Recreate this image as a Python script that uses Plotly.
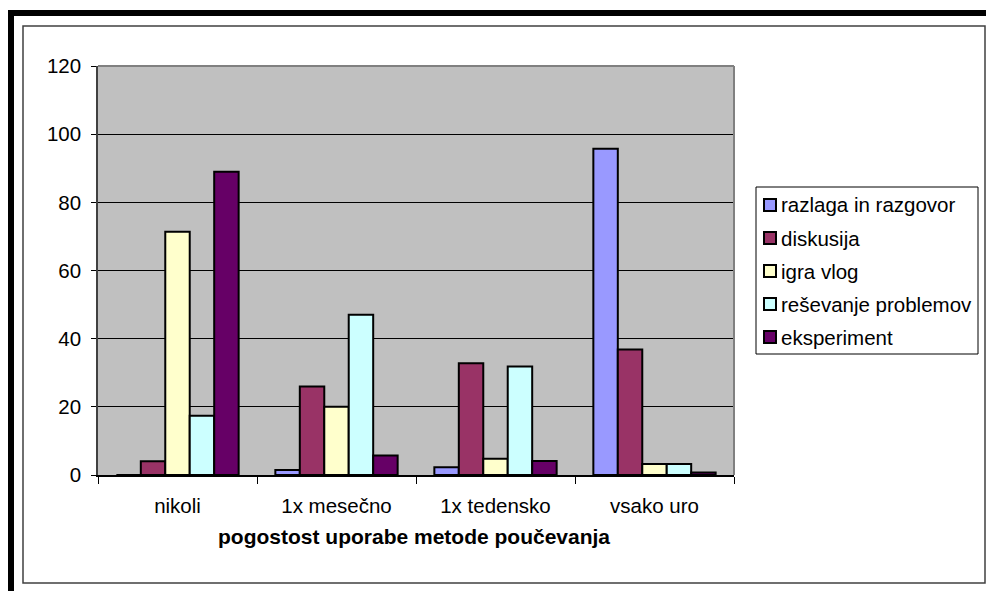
import plotly.graph_objects as go

# Categories (frequency of use) and the five teaching methods
categories = ["nikoli", "1x mesečno", "1x tedensko", "vsako uro"]
methods = ["razlaga in razgovor", "diskusija", "igra vlog",
           "reševanje problemov", "eksperiment"]

razlaga = [0, 1.5, 2.3, 95.7]
diskusija = [4.0, 26.0, 32.8, 36.8]
igra_vlog = [71.4, 20.0, 4.8, 3.2]
resevanje = [17.4, 47.0, 31.8, 3.2]
eksperiment = [89.0, 5.7, 4.1, 0.7]

series = [razlaga, diskusija, igra_vlog, resevanje, eksperiment]
colors = ["#9999FF", "#993366", "#FFFFCC", "#CCFFFF", "#660066"]

y_ticks = [0, 20, 40, 60, 80, 100, 120]
x_title = "pogostost uporabe metode poučevanja"

W, H = 986, 591
L, R, T, B = 98, 734, 66, 475  # plot area in pixels
FONT = "Liberation Sans, Arial, sans-serif"
FS = 20.5


def px(x):
    return (x - L) / (R - L)


def py(y):
    return (B - y) / (B - T)


fig = go.Figure()
for name, vals, col in zip(methods, series, colors):
    fig.add_trace(go.Bar(
        x=categories, y=vals, name=name,
        marker=dict(color=col, line=dict(color="black", width=2)),
        showlegend=False,
    ))

shapes = [
    # heavy black frame on top and left
    dict(type="rect", xref="paper", yref="paper",
         x0=px(8), x1=px(990), y0=py(16), y1=py(10),
         fillcolor="black", line=dict(width=0)),
    dict(type="rect", xref="paper", yref="paper",
         x0=px(8), x1=px(14), y0=py(595), y1=py(10),
         fillcolor="black", line=dict(width=0)),
    # thin chart-area frame
    dict(type="rect", xref="paper", yref="paper",
         x0=px(23), x1=px(985), y0=py(583), y1=py(26),
         line=dict(color="#404040", width=1.5)),
    # plot area border (top and right)
    dict(type="line", xref="paper", yref="paper",
         x0=0, x1=1, y0=1, y1=1, line=dict(color="#808080", width=2),
         layer="above"),
    dict(type="line", xref="paper", yref="paper",
         x0=1, x1=1, y0=0, y1=1, line=dict(color="#808080", width=2),
         layer="above"),
    # legend box
    dict(type="rect", xref="paper", yref="paper",
         x0=px(756), x1=px(978), y0=py(354), y1=py(187),
         fillcolor="white", line=dict(color="black", width=1)),
]

annotations = []
for i, (name, col) in enumerate(zip(methods, colors)):
    cy = 205 + 33 * i
    shapes.append(dict(type="rect", xref="paper", yref="paper",
                       x0=px(764), x1=px(776), y0=py(cy + 6), y1=py(cy - 6),
                       fillcolor=col, line=dict(color="black", width=2)))
    annotations.append(dict(xref="paper", yref="paper",
                            x=px(779), y=py(cy), xanchor="left", yanchor="middle",
                            text=name, showarrow=False,
                            font=dict(family=FONT, size=FS, color="black")))

annotations.append(dict(xref="paper", yref="paper",
                        x=px(414), y=py(536), xanchor="center", yanchor="middle",
                        text="<b>" + x_title + "</b>", showarrow=False,
                        font=dict(family=FONT, size=21, color="black")))

fig.update_layout(
    width=W, height=H,
    margin=dict(l=L, r=W - R, t=T, b=H - B, pad=0),
    paper_bgcolor="white",
    plot_bgcolor="#C0C0C0",
    barmode="group",
    bargap=1.5 / 6.5,
    bargroupgap=0,
    shapes=shapes,
    annotations=annotations,
    font=dict(family=FONT, size=FS, color="black"),
)
fig.update_xaxes(
    type="category", tickson="boundaries",
    ticks="outside", ticklen=7, tickcolor="black", tickwidth=1,
    ticklabelstandoff=12,
    showline=True, linecolor="black", linewidth=1.5,
    showgrid=False, tickfont=dict(family=FONT, size=FS, color="black"),
)
fig.update_yaxes(
    range=[0, 120], tickvals=y_ticks,
    ticks="outside", ticklen=5, tickcolor="black", tickwidth=1,
    ticklabelstandoff=6,
    showline=True, linecolor="#404040", linewidth=1.5,
    showgrid=True, gridcolor="black", gridwidth=1,
    zeroline=False, tickfont=dict(family=FONT, size=FS, color="black"),
)

fig.write_html("out.html")
